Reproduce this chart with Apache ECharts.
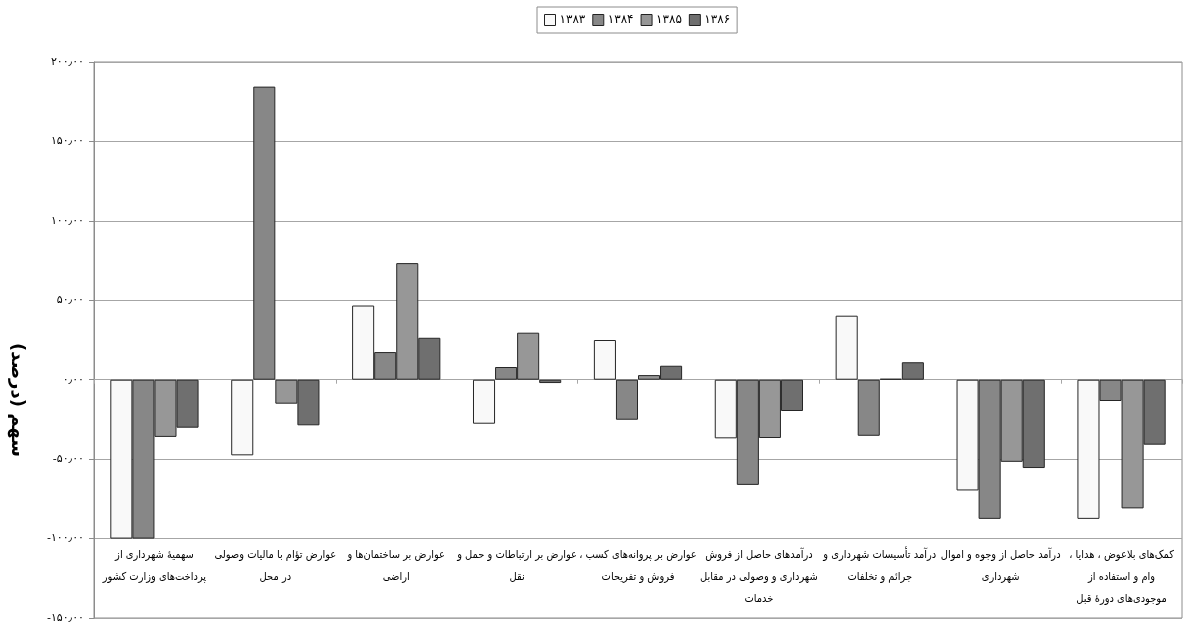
<!DOCTYPE html>
<html>
<head>
<meta charset="utf-8">
<script src="https://cdn.jsdelivr.net/npm/echarts@6/dist/echarts.min.js"></script>
<style>
  html, body { margin: 0; padding: 0; background: #fff; }
  #chart { width: 1185px; height: 625px; }
</style>
</head>
<body>
<div id="chart"></div>
<script>
// Revenue categories (left to right); RLM keeps trailing punctuation on the RTL side
const RLM = '\u200f';
const categories = [
  'سهمیهٔ شهرداری از\nپرداخت‌های وزارت کشور',
  'عوارض تؤام با مالیات وصولی\nدر محل',
  'عوارض بر ساختمان‌ها و\nاراضی',
  'عوارض بر ارتباطات و حمل و\nنقل',
  'عوارض بر پروانه‌های کسب ،' + RLM + '\nفروش و تفریحات',
  'درآمدهای حاصل از فروش\nشهرداری و وصولی در مقابل\nخدمات',
  'درآمد تأسیسات شهرداری و\nجرائم و تخلفات',
  'درآمد حاصل از وجوه و اموال\nشهرداری',
  'کمک‌های بلاعوض ، هدایا ،' + RLM + '\nوام و استفاده از\nموجودی‌های دورهٔ قبل'
];

// Year names
const years = ['۱۳۸۳', '۱۳۸۴', '۱۳۸۵', '۱۳۸۶'];

// Share change (percent) per category, one array per year
const values1383 = [-100, -47.6, 46.7, -27.7, 25.0, -36.9, 40.3, -69.7, -87.6];
const values1384 = [-100, 184.5, 17.4, 8.0, -25.2, -66.2, -35.3, -87.6, -13.4];
const values1385 = [-36.0, -15.1, 73.4, 29.6, 2.9, -36.7, 0.6, -51.7, -81.0];
const values1386 = [-30.2, -28.7, 26.4, -2.1, 8.8, -19.7, 11.0, -55.6, -40.9];

const yAxisTitle = 'سهم (درصد)' + RLM;

const faDigits = ['۰', '۱', '۲', '۳', '۴', '۵', '۶', '۷', '۸', '۹'];
function toFa(v) {
  return v.toFixed(2).replace('.', '٫').replace(/[0-9]/g, d => faDigits[+d]);
}

const seriesValues = [values1383, values1384, values1385, values1386];
const fills = ['#f9f9f9', '#878787', '#979797', '#6f6f6f'];

const FONT = 'DejaVu Sans';
const FONT_NARROW = 'DejaVu Sans Condensed';

const chart = echarts.init(document.getElementById('chart'), null, { renderer: 'canvas' });

chart.setOption({
  animation: false,
  backgroundColor: '#ffffff',
  textStyle: { fontFamily: FONT },
  legend: {
    top: 7,
    left: 537,
    data: years,
    icon: 'rect',
    itemWidth: 11,
    itemHeight: 11,
    itemGap: 7,
    padding: [7, 7],
    borderColor: '#8c8c8c',
    borderWidth: 1,
    textStyle: { fontFamily: FONT, fontSize: 12, color: '#000', padding: [0, 0, 0, -1] },
    itemStyle: { borderColor: '#222', borderWidth: 1 }
  },
  grid: {
    left: 94,
    right: 3,
    top: 62,
    bottom: 7,
    show: true,
    borderColor: '#8c8c8c',
    borderWidth: 1,
    outerBoundsMode: 'none',
    containLabel: false
  },
  xAxis: [
    {
      type: 'category',
      data: categories,
      axisLine: { onZero: true, lineStyle: { color: '#a6a6a6', width: 1 } },
      axisTick: { show: true, length: 4, lineStyle: { color: '#a6a6a6' } },
      axisLabel: { show: false }
    },
    {
      type: 'category',
      data: categories,
      position: 'bottom',
      axisLine: { onZero: false, show: false },
      axisTick: { show: false },
      axisLabel: {
        show: true,
        inside: true,
        interval: 0,
        hideOverlap: false,
        margin: 74,
        verticalAlign: 'top',
        align: 'center',
        lineHeight: 22,
        fontFamily: FONT_NARROW,
        fontSize: 11,
        color: '#000'
      }
    }
  ],
  yAxis: {
    type: 'value',
    min: -150,
    max: 200,
    interval: 50,
    axisLine: { show: true, lineStyle: { color: '#8c8c8c', width: 1 } },
    axisTick: { show: true, length: 5, lineStyle: { color: '#8c8c8c' } },
    axisLabel: {
      margin: 10,
      fontFamily: FONT,
      fontSize: 11,
      color: '#000',
      formatter: v => toFa(v)
    },
    splitLine: { show: true, lineStyle: { color: '#a6a6a6', width: 1 } }
  },
  // Vertical axis title, read top to bottom
  graphic: [{
    type: 'text',
    x: 17,
    y: 400,
    rotation: -Math.PI / 2,
    style: {
      text: yAxisTitle,
      fontFamily: FONT,
      fontSize: 18,
      fontWeight: 'bold',
      fill: '#000',
      align: 'center',
      verticalAlign: 'middle'
    }
  }],
  series: years.map((y, i) => ({
    name: y,
    type: 'bar',
    xAxisIndex: 0,
    data: seriesValues[i],
    barGap: '0%',
    barCategoryGap: '27%',
    itemStyle: {
      color: fills[i],
      borderColor: '#262626',
      borderWidth: 1
    }
  }))
});
</script>
</body>
</html>
